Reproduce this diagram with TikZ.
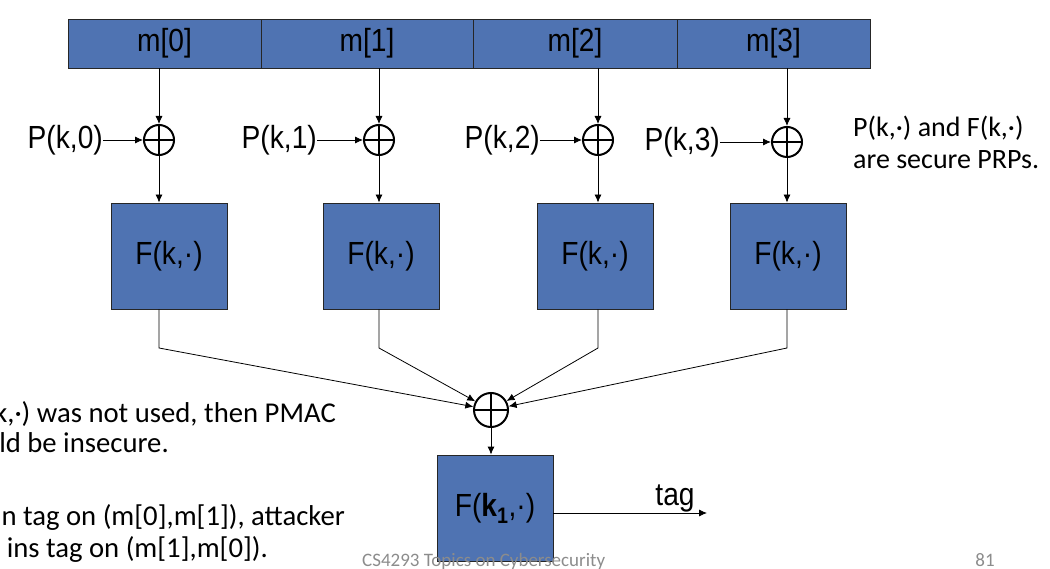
\documentclass[tikz,border=0pt]{standalone}
\usepackage{fontspec}
\setmainfont[FakeStretch=0.88]{Liberation Sans}
\newfontfamily\calibri{Carlito}
\usetikzlibrary{arrows.meta}

\begin{document}
\begin{tikzpicture}[x=1pt,y=-1pt,
    msgbox/.style={draw=black!85, fill=pmacblue, line width=0.8pt, minimum height=49pt, inner sep=0pt, font=\fontsize{32}{36}\selectfont},
    blockbox/.style={draw=black!85, fill=pmacblue, line width=0.8pt, minimum width=116pt, minimum height=106pt, inner sep=0pt, font=\fontsize{32}{36}\selectfont},
    xorsym/.style={circle, draw, line width=2pt, minimum size=30pt, inner sep=0pt,
        path picture={\draw[line width=2pt] (path picture bounding box.north) -- (path picture bounding box.south)
            (path picture bounding box.west) -- (path picture bounding box.east);}},
    flow/.style={-{Latex[length=8pt,width=7pt]}, line width=0.8pt},
    big/.style={font=\fontsize{32}{36}\selectfont, inner sep=0pt},
    note/.style={font=\calibri\fontsize{28}{34}\selectfont, inner sep=0pt}]
        % Define colours
        \definecolor{pmacblue}{RGB}{79,115,178} % block blue
        \definecolor{footgray}{RGB}{140,140,140} % footer grey
        \useasboundingbox (0,0) rectangle (1050,569);

        % Draw the message blocks
        \foreach \i/\cx/\w in {0/164.5/193, 1/367/212, 2/575/204, 3/773.5/193} {
            \node[msgbox, minimum width=\w pt] (m\i) at (\cx,43.5) {m[\i]};
        }

        % Draw the xors with P(k,i)
        \foreach \i/\x/\y/\pe in {0/159/140/103, 1/379/140/317, 2/598/140/540, 3/787/142/720} {
            \node[xorsym] (x\i) at (\x,\y) {};
            \node[big, anchor=east] (p\i) at (\pe,\y) {P(k,\i)};
            \draw[flow] (p\i) -- (x\i);
            \draw[flow] (x\i |- m\i.south) -- (x\i);
        }

        % Draw the F boxes
        \node[xorsym, minimum size=34pt] (bx) at (491,410) {};
        \foreach \i/\cx in {0/169, 1/381, 2/595, 3/788} {
            \node[blockbox] (f\i) at (\cx,256) {F(k,·)};
            \draw[flow] (x\i) -- (x\i |- f\i.north);
            \coordinate (c\i) at (x\i |- 0,348);
            \draw[flow] (x\i |- f\i.south) -- (c\i) -- (bx);
        }

        % Draw the last block and the tag
        \node[blockbox] (fk) at (495,508) {\raisebox{-6pt}{F(\textbf{k}\textsubscript{\textbf{1}},·)}};
        \draw[flow] (bx) -- (bx |- fk.north);
        \coordinate (tagend) at (707,513);
        \draw[flow] (fk.east |- tagend) -- (tagend);
        \node[big, anchor=base] (tag) at (675,505) {tag};

        % Notes
        \node[note, anchor=base west] (n1) at (853,137) {P(k,·) and F(k,·)};
        \node[note, anchor=base west] (n2) at (853,169) {are secure PRPs.};
        \begin{scope}[note/.append style={font=\calibri\fontsize{28.7}{34}\selectfont}]
        \node[note, anchor=base east] (l1) at (336,422) {k,·) was not used, then PMAC};
        \node[note, anchor=base east] (l2) at (169,452) {ld be insecure.};
        \node[note, anchor=base east] (l3) at (345,525) {n tag on (m[0],m[1]), attacker};
        \node[note, anchor=base east] (l4) at (268,557) {ins tag on (m[1],m[0]).};
        \end{scope}

        % Footer
        \node[font=\calibri\fontsize{19}{22}\selectfont, text=footgray, anchor=base west, inner sep=0pt] (foot) at (362,566) {CS4293 Topics on Cybersecurity};
        \node[font=\calibri\fontsize{19}{22}\selectfont, text=footgray, anchor=base, inner sep=0pt] (page) at (985,566) {81};
\end{tikzpicture}
\end{document}
